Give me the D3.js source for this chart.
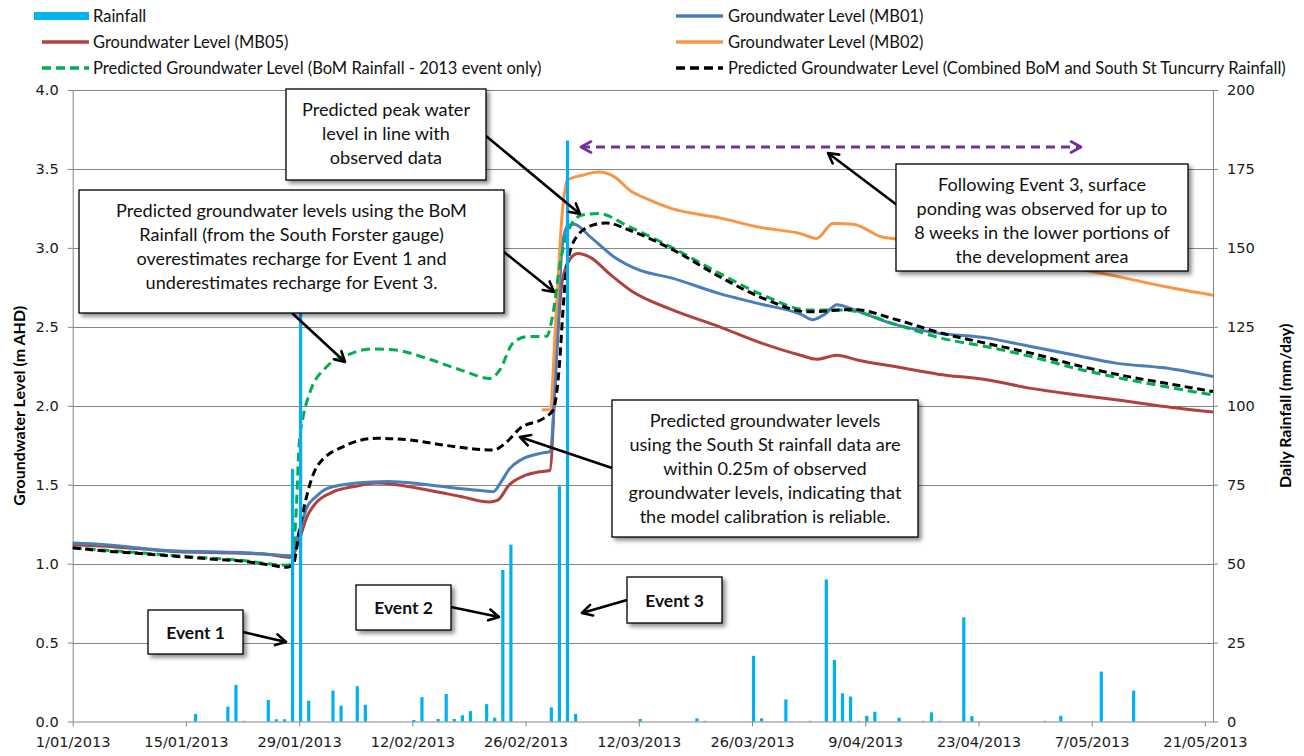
<!DOCTYPE html>
<html>
<head>
<meta charset="utf-8">
<script src="https://cdn.jsdelivr.net/npm/d3@7"></script>
<style>
  body { margin: 0; background: #fff; }
  svg { display: block; font-family: Lato, "Open Sans", sans-serif; }
</style>
</head>
<body>
<svg id="chart" width="1304" height="756"></svg>
<script>
// ---- Data -------------------------------------------------------------
const startDate = new Date(2013, 0, 1);

// Daily rainfall (mm/day)
const rainDates = ["2013-01-16","2013-01-20","2013-01-21","2013-01-22","2013-01-25","2013-01-26","2013-01-27",
  "2013-01-28","2013-01-29","2013-01-30","2013-02-02","2013-02-03","2013-02-05","2013-02-06","2013-02-12",
  "2013-02-13","2013-02-15","2013-02-16","2013-02-17","2013-02-18","2013-02-19","2013-02-21","2013-02-22",
  "2013-02-23","2013-02-24","2013-03-01","2013-03-02","2013-03-03","2013-03-04","2013-03-12","2013-03-19",
  "2013-03-20","2013-03-26","2013-03-27","2013-03-30","2013-04-02","2013-04-04","2013-04-05","2013-04-06",
  "2013-04-07","2013-04-08","2013-04-09","2013-04-10","2013-04-13","2013-04-16","2013-04-17","2013-04-18",
  "2013-04-21","2013-04-22","2013-05-01","2013-05-03","2013-05-08","2013-05-12"];
const rainMm = [2.4, 4.7, 11.6, 0.2, 6.8, 0.7, 0.7,
  80, 140, 6.6, 9.8, 5.0, 11.2, 5.3, 0.5,
  7.7, 0.8, 8.7, 0.8, 2.0, 3.3, 5.5, 1.2,
  48, 56, 4.5, 74.5, 184, 2.4, 0.8, 1.0,
  0.2, 20.8, 1.0, 7.0, 0.2, 45, 19.5, 8.9,
  7.9, 0.2, 1.8, 3.1, 1.2, 0.2, 2.9, 0.2,
  33, 1.7, 0.2, 1.8, 15.8, 9.8];

// Groundwater levels (m AHD), sampled by days elapsed since 1 Jan 2013
const mb01Days   = [0, 4, 8, 10, 13, 17, 21, 24, 27, 28, 29, 30, 31.5, 35, 39, 43, 47, 51, 52, 53, 54, 55.5, 58, 59,
  60, 60.5, 61.2, 62, 64, 67, 70, 74, 80, 85, 90, 91.5, 93, 94.5, 96.5, 101, 107, 113, 118, 124, 129, 135, 141];
const mb01Levels = [1.13, 1.12, 1.10, 1.09, 1.08, 1.075, 1.07, 1.06, 1.05, 1.20, 1.36, 1.42, 1.477, 1.51, 1.52, 1.505, 1.48, 1.46, 1.455, 1.52, 1.60, 1.66, 1.70, 1.71,
  2.5, 3.0, 3.14, 3.15, 3.07, 2.94, 2.86, 2.81, 2.71, 2.645, 2.58, 2.545, 2.58, 2.64, 2.61, 2.525, 2.46, 2.43, 2.38, 2.32, 2.27, 2.24, 2.185];

const mb05Days   = [0, 4, 8, 13, 17, 21, 24, 27, 28, 29, 30, 32, 35, 37.5, 40, 44, 48, 51.5, 52.5, 54, 56, 57.5, 59,
  59.8, 60.5, 61.5, 62.5, 64, 66.5, 69, 74, 80, 85, 90, 92, 94.5, 97, 102, 107, 113, 118.5, 124, 129.5, 135, 141];
const mb05Levels = [1.12, 1.11, 1.095, 1.075, 1.07, 1.065, 1.06, 1.04, 1.15, 1.30, 1.38, 1.45, 1.49, 1.51, 1.50, 1.465, 1.425, 1.39, 1.40, 1.50, 1.56, 1.58, 1.59,
  2.3, 2.78, 2.93, 2.965, 2.94, 2.83, 2.73, 2.61, 2.50, 2.40, 2.32, 2.295, 2.32, 2.29, 2.245, 2.20, 2.165, 2.11, 2.07, 2.035, 1.995, 1.96];

const mb02Days   = [58, 59, 59.8, 60.5, 61.2, 63, 65, 67, 69, 71, 74, 80, 85, 90, 92, 94, 96.5, 100, 103, 110, 118, 125, 130, 135, 141];
const mb02Levels = [1.975, 1.975, 2.6, 3.2, 3.43, 3.46, 3.48, 3.45, 3.36, 3.31, 3.25, 3.19, 3.13, 3.09, 3.06, 3.155, 3.15, 3.07, 3.05, 3.0, 2.93, 2.86, 2.81, 2.755, 2.70];

// Model predictions
const bomDays   = [0, 4, 8, 13, 17, 21, 24, 26.5, 27, 27.6, 28, 28.5, 29.3, 31.4, 33.9, 37, 39.6, 43.8, 48, 51.6, 52.8, 54.4, 56.1, 58.6,
  59.4, 60.2, 61.5, 63, 65, 68.8, 74.3, 80, 85.4, 91, 95.4, 102, 107.5, 113, 118.6, 124, 129.6, 135.2, 141];
const bomLevels = [1.10, 1.085, 1.07, 1.05, 1.035, 1.02, 1.00, 0.99, 1.0, 1.30, 1.75, 1.93, 2.08, 2.247, 2.32, 2.36, 2.355, 2.30, 2.226, 2.173, 2.226, 2.395, 2.437, 2.44,
  2.587, 2.88, 3.134, 3.208, 3.218, 3.134, 2.997, 2.838, 2.70, 2.606, 2.606, 2.511, 2.427, 2.374, 2.31, 2.237, 2.174, 2.12, 2.068];

const combinedDays   = [0, 4, 8, 13, 17, 21, 24, 26.5, 27.3, 28, 28.8, 30.2, 33.4, 37.6, 41.7, 45.8, 52, 53.7, 55.3, 58.2, 59.4,
  60.2, 60.6, 61.1, 62.3, 64.3, 66, 68.8, 74.3, 80, 85.4, 91, 96.5, 102, 107.5, 113, 118.6, 124, 129.6, 135.2, 141];
const combinedLevels = [1.10, 1.08, 1.065, 1.045, 1.03, 1.015, 0.995, 0.977, 1.0, 1.20, 1.40, 1.614, 1.74, 1.794, 1.783, 1.751, 1.72, 1.772, 1.857, 1.92, 1.973,
  2.27, 2.587, 2.88, 3.07, 3.144, 3.158, 3.113, 2.986, 2.817, 2.68, 2.595, 2.61, 2.543, 2.459, 2.395, 2.332, 2.258, 2.194, 2.142, 2.09];

const levelTicks = [0, 0.5, 1, 1.5, 2, 2.5, 3, 3.5, 4];
const rainTicks = [0, 25, 50, 75, 100, 125, 150, 175, 200];
const dateTickDays = [0, 14, 28, 42, 56, 70, 84, 98, 112, 126, 140];

// ---- Helpers ----------------------------------------------------------
const dayToDate = d => new Date(startDate.getTime() + d * 86400000);
const parseDate = d3.timeParse("%Y-%m-%d");
const zip = (days, vals) => days.map((d, i) => ({ date: dayToDate(d), value: vals[i] }));

// ---- Scales -----------------------------------------------------------
const plot = { left: 72.7, right: 1213, top: 90, bottom: 721.5 };
const x = d3.scaleTime().domain([startDate, dayToDate(141)]).range([plot.left, plot.right]);
const y = d3.scaleLinear().domain([0, 4]).range([plot.bottom, plot.top]);
const yRain = d3.scaleLinear().domain([0, 200]).range([plot.bottom, plot.top]);

const svg = d3.select("#chart");
const axisGrey = "#868686";
const tickFont = "'DejaVu Sans', Verdana, sans-serif";

// Drop shadow for text boxes
const defs = svg.append("defs");
const shadow = defs.append("filter").attr("id", "boxShadow")
  .attr("x", "-10%").attr("y", "-10%").attr("width", "130%").attr("height", "140%");
shadow.append("feDropShadow").attr("dx", 3).attr("dy", 3).attr("stdDeviation", 2.2)
  .attr("flood-color", "#000").attr("flood-opacity", 0.45);

function arrowMarker(id, colour) {
  defs.append("marker").attr("id", id)
    .attr("viewBox", "0 0 14 14").attr("refX", 12).attr("refY", 7)
    .attr("markerWidth", 14).attr("markerHeight", 14).attr("markerUnits", "userSpaceOnUse")
    .attr("orient", "auto-start-reverse")
    .append("path").attr("d", "M2,1.5 L12,7 L2,12.5")
    .attr("fill", "none").attr("stroke", colour).attr("stroke-width", 2.6)
    .attr("stroke-linecap", "round").attr("stroke-linejoin", "round");
}
arrowMarker("arrowBlack", "#000");
arrowMarker("arrowPurple", "#7030A0");

// ---- Gridlines --------------------------------------------------------
svg.append("g").selectAll("line").data(levelTicks.filter(t => t > 0)).join("line")
  .attr("x1", plot.left).attr("x2", plot.right)
  .attr("y1", d => Math.round(y(d)) + 0.5).attr("y2", d => Math.round(y(d)) + 0.5)
  .attr("stroke", axisGrey).attr("stroke-width", 1);

// ---- Axes -------------------------------------------------------------
const fmtDate = d3.timeFormat("%-d/%m/%Y");
const xAxis = d3.axisBottom(x).tickValues(dateTickDays.map(dayToDate)).tickFormat(fmtDate)
  .tickSize(5).tickSizeOuter(0).tickPadding(10);
const gx = svg.append("g").attr("transform", `translate(0,${plot.bottom})`).call(xAxis);

const yAxis = d3.axisLeft(y).tickValues(levelTicks).tickFormat(d3.format(".1f"))
  .tickSize(5).tickSizeOuter(0).tickPadding(9);
const gy = svg.append("g").attr("transform", `translate(${plot.left},0)`).call(yAxis);

const yRainAxis = d3.axisRight(yRain).tickValues(rainTicks).tickFormat(d3.format("d"))
  .tickSize(5).tickSizeOuter(0).tickPadding(9);
const gr = svg.append("g").attr("transform", `translate(${plot.right},0)`).call(yRainAxis);

[gx, gy, gr].forEach(g => {
  g.selectAll("path, line").attr("stroke", axisGrey);
  g.selectAll("text").attr("font-family", tickFont).attr("font-size", 14.6).attr("fill", "#1a1a1a");
});

// Axis titles
svg.append("text")
  .attr("transform", `translate(18,${(plot.top + plot.bottom) / 2}) rotate(-90)`)
  .attr("text-anchor", "middle").attr("dominant-baseline", "central")
  .attr("font-weight", "bold").attr("font-size", 16)
  .text("Groundwater Level (m AHD)");
svg.append("text")
  .attr("transform", `translate(1284,${(plot.top + plot.bottom) / 2}) rotate(-90)`)
  .attr("text-anchor", "middle").attr("dominant-baseline", "central")
  .attr("font-weight", "bold").attr("font-size", 16)
  .text("Daily Rainfall (mm/day)");

// ---- Groundwater lines ------------------------------------------------
const line = d3.line().x(d => x(d.date)).y(d => y(d.value)).curve(d3.curveMonotoneX);
const seriesStyles = [
  { data: zip(mb05Days, mb05Levels), colour: "#B0413E", dash: null },
  { data: zip(mb01Days, mb01Levels), colour: "#4A7EBB", dash: null },
  { data: zip(mb02Days, mb02Levels), colour: "#F79646", dash: null },
  { data: zip(bomDays, bomLevels), colour: "#00B050", dash: "9,5" },
  { data: zip(combinedDays, combinedLevels), colour: "#000000", dash: "8,4.5" }
];
svg.append("g").selectAll("path").data(seriesStyles).join("path")
  .attr("d", s => line(s.data))
  .attr("fill", "none").attr("stroke", s => s.colour).attr("stroke-width", 3)
  .attr("stroke-dasharray", s => s.dash)
  .attr("stroke-linejoin", "round");

// ---- Rainfall bars ----------------------------------------------------
const rain = rainDates.map((d, i) => ({ date: parseDate(d), mm: rainMm[i] }));
const barW = 3.2;
svg.append("g").selectAll("rect").data(rain).join("rect")
  .attr("x", d => x(d.date) + 1.5 - barW / 2)
  .attr("y", d => yRain(d.mm))
  .attr("width", barW)
  .attr("height", d => plot.bottom - yRain(d.mm))
  .attr("fill", "#00B0F0");

// ---- Annotation arrows ------------------------------------------------
const arrows = [
  [486, 136, 580, 214],
  [504, 252, 554, 292],
  [292, 313, 345, 362],
  [612, 468, 520, 437],
  [897, 205, 828, 153],
  [243, 632, 286, 642],
  [451, 607, 499, 617],
  [627, 600, 582, 613]
];
svg.append("g").selectAll("line").data(arrows).join("line")
  .attr("x1", d => d[0]).attr("y1", d => d[1]).attr("x2", d => d[2]).attr("y2", d => d[3])
  .attr("stroke", "#000").attr("stroke-width", 2.6).attr("marker-end", "url(#arrowBlack)");

// Ponding period indicator
svg.append("line")
  .attr("x1", 581).attr("x2", 1081).attr("y1", 147).attr("y2", 147)
  .attr("stroke", "#7030A0").attr("stroke-width", 3).attr("stroke-dasharray", "9,6")
  .attr("marker-start", "url(#arrowPurple)").attr("marker-end", "url(#arrowPurple)");

// ---- Text boxes -------------------------------------------------------
const boxes = [
  { x: 286, y: 89, w: 200, h: 91, lines: ["Predicted peak water", "level in line with", "observed data"] },
  { x: 79, y: 190, w: 425, h: 123, lines: ["Predicted groundwater levels using the BoM", "Rainfall (from the South Forster gauge)",
      "overestimates recharge for Event 1 and", "underestimates recharge for Event 3."] },
  { x: 896, y: 164, w: 292, h: 107, lines: ["Following Event 3, surface", "ponding was observed for up to",
      "8 weeks in the lower portions of", "the development area"] },
  { x: 612, y: 400, w: 306, h: 137, lines: ["Predicted groundwater levels", "using the South St rainfall data are",
      "within 0.25m of observed", "groundwater levels, indicating that", "the model calibration is reliable."] },
  { x: 148, y: 610, w: 95, h: 44, lines: ["Event 1"], bold: true },
  { x: 356, y: 585, w: 95, h: 45, lines: ["Event 2"], bold: true },
  { x: 627, y: 577, w: 95, h: 46, lines: ["Event 3"], bold: true }
];
const boxG = svg.append("g").selectAll("g").data(boxes).join("g");
boxG.append("rect")
  .attr("x", b => b.x).attr("y", b => b.y).attr("width", b => b.w).attr("height", b => b.h)
  .attr("fill", "#fff").attr("stroke", "#000").attr("stroke-width", 1.3)
  .attr("filter", "url(#boxShadow)");
boxG.each(function (b) {
  const g = d3.select(this);
  const lh = 24;
  const first = b.bold ? b.y + b.h / 2 : b.y + 19.5;
  b.lines.forEach((t, i) => {
    g.append("text")
      .attr("x", b.x + b.w / 2).attr("y", first + i * lh)
      .attr("text-anchor", "middle").attr("dominant-baseline", "central")
      .attr("font-size", b.bold ? 17.5 : 18.1).attr("font-weight", b.bold ? "bold" : "normal")
      .attr("fill", "#111")
      .text(t);
  });
});

// ---- Legend -----------------------------------------------------------
const legendItems = [
  { label: "Rainfall", type: "bar", colour: "#00B0F0", col: 0, row: 0 },
  { label: "Groundwater Level (MB05)", type: "line", colour: "#B0413E", col: 0, row: 1 },
  { label: "Predicted Groundwater Level (BoM Rainfall - 2013 event only)", type: "dash", colour: "#00B050", col: 0, row: 2 },
  { label: "Groundwater Level (MB01)", type: "line", colour: "#4A7EBB", col: 1, row: 0 },
  { label: "Groundwater Level (MB02)", type: "line", colour: "#F79646", col: 1, row: 1 },
  { label: "Predicted Groundwater Level (Combined BoM and South St Tuncurry Rainfall)", type: "dash", colour: "#000000", col: 1, row: 2 }
];
const legendCols = [{ x0: 42, x1: 89, tx: 93 }, { x0: 676, x1: 723, tx: 728 }];
const legendRowY = [16, 42, 68];
const lg = svg.append("g").selectAll("g").data(legendItems).join("g");
lg.each(function (d) {
  const g = d3.select(this);
  const c = legendCols[d.col], yy = legendRowY[d.row];
  if (d.type === "bar") {
    g.append("rect").attr("x", c.x0 - 8).attr("y", yy - 4).attr("width", c.x1 - c.x0 + 8).attr("height", 8)
      .attr("fill", d.colour);
  } else {
    g.append("line").attr("x1", c.x0).attr("x2", c.x1).attr("y1", yy).attr("y2", yy)
      .attr("stroke", d.colour).attr("stroke-width", 3.5)
      .attr("stroke-dasharray", d.type === "dash" ? "9,5" : null);
  }
  g.append("text").attr("x", c.tx).attr("y", yy).attr("dominant-baseline", "central")
    .attr("font-size", 16.5).attr("fill", "#111").text(d.label);
});
</script>
</body>
</html>
